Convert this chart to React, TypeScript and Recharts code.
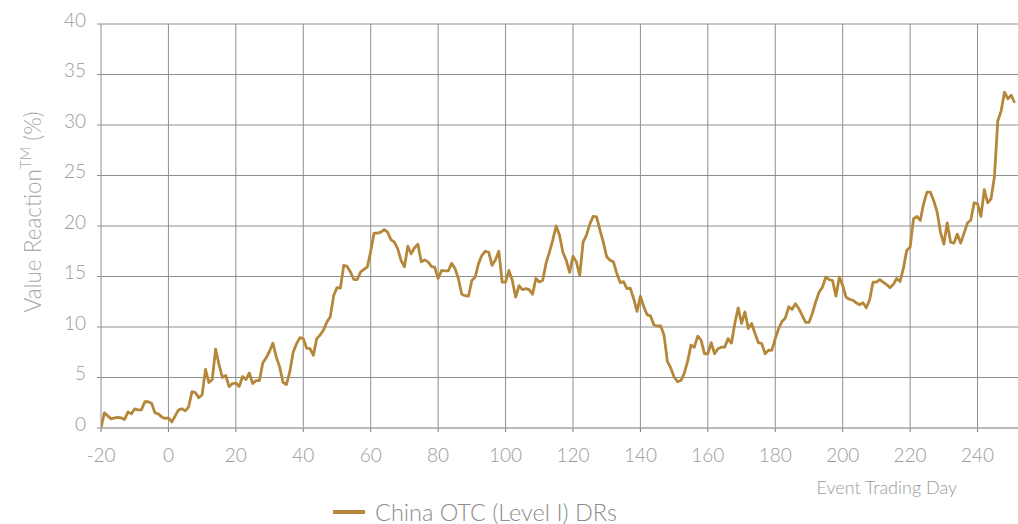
import { LineChart, Line, XAxis, YAxis, CartesianGrid, Legend, Label } from 'recharts';

const seriesName = 'China OTC (Level I) DRs';
const firstDay = -20;

// daily value reaction, days -20 .. -1
const preEvent = [
  0.0, 1.5, 1.2, 0.9, 1.0, 1.05, 1.0, 0.85, 1.6, 1.4,
  1.9, 1.8, 1.8, 2.6, 2.6, 2.45, 1.5, 1.4, 1.1, 0.95,
];

// days 0 .. 119
const earlyWindow = [
  1.0, 0.6, 1.2, 1.8, 1.9, 1.7, 2.1, 3.6, 3.5, 3.0,
  3.3, 5.8, 4.5, 4.8, 7.8, 6.3, 5.0, 5.2, 4.1, 4.4,
  4.45, 4.1, 5.1, 4.8, 5.45, 4.4, 4.7, 4.7, 6.45, 6.95,
  7.6, 8.4, 7.0, 6.05, 4.5, 4.3, 5.55, 7.5, 8.35, 8.95,
  8.85, 7.9, 7.85, 7.2, 8.85, 9.2, 9.7, 10.5, 11.0, 13.1,
  13.9, 13.85, 16.1, 16.0, 15.45, 14.7, 14.7, 15.45, 15.7, 15.95,
  17.5, 19.3, 19.3, 19.4, 19.65, 19.4, 18.65, 18.4, 17.75, 16.6,
  15.95, 18.0, 17.25, 17.85, 18.2, 16.45, 16.65, 16.45, 16.0, 15.9,
  14.8, 15.6, 15.55, 15.55, 16.3, 15.8, 14.8, 13.25, 13.1, 13.05,
  14.6, 14.95, 16.3, 17.1, 17.5, 17.4, 16.1, 16.65, 17.5, 14.45,
  14.45, 15.6, 14.6, 12.95, 14.1, 13.7, 13.8, 13.7, 13.25, 14.8,
  14.45, 14.6, 16.3, 17.4, 18.6, 20.0, 19.1, 17.4, 16.6, 15.4,
];

// days 120 .. 251
const lateWindow = [
  17.0, 16.45, 15.1, 18.4, 19.1, 20.2, 20.95, 20.9, 19.6, 18.4,
  16.95, 16.6, 16.45, 15.3, 14.4, 14.5, 13.8, 13.85, 12.8, 11.55,
  13.05, 12.0, 11.2, 11.1, 10.2, 10.1, 10.1, 9.2, 6.6, 5.95,
  5.05, 4.6, 4.7, 5.4, 6.6, 8.2, 8.0, 9.1, 8.7, 7.35,
  7.35, 8.45, 7.35, 7.85, 8.0, 8.0, 8.85, 8.4, 10.35, 11.9,
  10.35, 11.5, 9.85, 10.35, 9.35, 8.45, 8.35, 7.35, 7.7, 7.7,
  8.85, 9.85, 10.55, 10.9, 12.0, 11.75, 12.3, 11.8, 11.15, 10.45,
  10.45, 11.35, 12.5, 13.45, 13.95, 14.95, 14.7, 14.6, 13.05, 14.95,
  14.1, 12.95, 12.75, 12.65, 12.4, 12.2, 12.4, 11.9, 12.7, 14.45,
  14.45, 14.7, 14.45, 14.2, 13.9, 14.2, 14.8, 14.5, 15.8, 17.6,
  17.9, 20.7, 20.95, 20.55, 22.2, 23.35, 23.35, 22.5, 21.4, 19.4,
  18.2, 20.3, 18.4, 18.3, 19.2, 18.3, 19.3, 20.3, 20.6, 22.3,
  22.2, 20.95, 23.6, 22.3, 22.7, 24.85, 30.4, 31.4, 33.25, 32.6,
  32.95, 32.2,
];

const xTicks = [-20, 0, 20, 40, 60, 80, 100, 120, 140, 160, 180, 200, 220, 240];
const yTicks = [0, 5, 10, 15, 20, 25, 30, 35, 40];

const data = [...preEvent, ...earlyWindow, ...lateWindow].map((value, i) => ({
  day: firstDay + i,
  value,
}));

const FONT = 'Lato, "Open Sans", sans-serif';
const GOLD = '#b5873a';
const TEXT = '#9a9a9a';

const YTick = ({ x, y, payload }: any) => (
  <text x={x} y={y} dy={2.5} textAnchor="end" fill={TEXT} fontFamily={FONT} fontWeight={300} fontSize={19}>
    {payload.value}
  </text>
);

const XTick = ({ x, y, payload }: any) => (
  <text x={x} y={y} dy={28} textAnchor="middle" fill={TEXT} fontFamily={FONT} fontWeight={300} fontSize={19}>
    {payload.value}
  </text>
);

const YTitle = () => (
  <text
    x={41}
    y={212}
    transform="rotate(-90 41 212)"
    textAnchor="middle"
    fill="#a8a8a8"
    fontFamily={FONT}
    fontWeight={300}
    fontSize={22.5}
  >
    Value Reaction
    <tspan fontSize={15} dy={-10}>TM</tspan>
    <tspan dy={10}> (%)</tspan>
  </text>
);

const XTitle = () => (
  <text x={957} y={494} textAnchor="end" fill={TEXT} fontFamily={FONT} fontWeight={300} fontSize={18}>
    Event Trading Day
  </text>
);

const LegendRow = () => (
  <div style={{ display: 'flex', alignItems: 'center', fontFamily: FONT, fontWeight: 300 }}>
    <span style={{ display: 'inline-block', width: 32, height: 3.5, background: GOLD, marginRight: 10 }} />
    <span style={{ fontSize: 23.5, color: '#8c8c8c' }}>{seriesName}</span>
  </div>
);

export default function App() {
  return (
    <div style={{ position: 'absolute', left: 0, top: 0, background: '#fff' }}>
      <LineChart width={1018} height={524} data={data} margin={{ top: 24, right: 0, left: 0, bottom: 0 }}>
        <CartesianGrid stroke="#8e8e8e" strokeWidth={1} horizontalValues={yTicks} verticalValues={xTicks} />
        <XAxis
          type="number"
          dataKey="day"
          domain={[-20, 252]}
          ticks={xTicks}
          allowDataOverflow
          height={96}
          tickSize={4}
          tickMargin={2}
          tickLine={{ stroke: '#7a7a7a' }}
          axisLine={{ stroke: '#b8b8b8', strokeWidth: 2 }}
          tick={<XTick />}
        >
          <Label content={<XTitle />} />
        </XAxis>
        <YAxis
          type="number"
          domain={[0, 40]}
          ticks={yTicks}
          width={101}
          tickSize={4}
          tickMargin={11}
          tickLine={{ stroke: '#8e8e8e' }}
          axisLine={false}
          tick={<YTick />}
        >
          <Label content={<YTitle />} />
        </YAxis>
        <Legend
          verticalAlign="middle"
          align="center"
          content={<LegendRow />}
          wrapperStyle={{ top: 498, left: 333, width: 340 }}
        />
        <Line
          type="linear"
          dataKey="value"
          name={seriesName}
          stroke={GOLD}
          strokeWidth={2.8}
          strokeLinejoin="round"
          dot={false}
          isAnimationActive={false}
        />
      </LineChart>
    </div>
  );
}
